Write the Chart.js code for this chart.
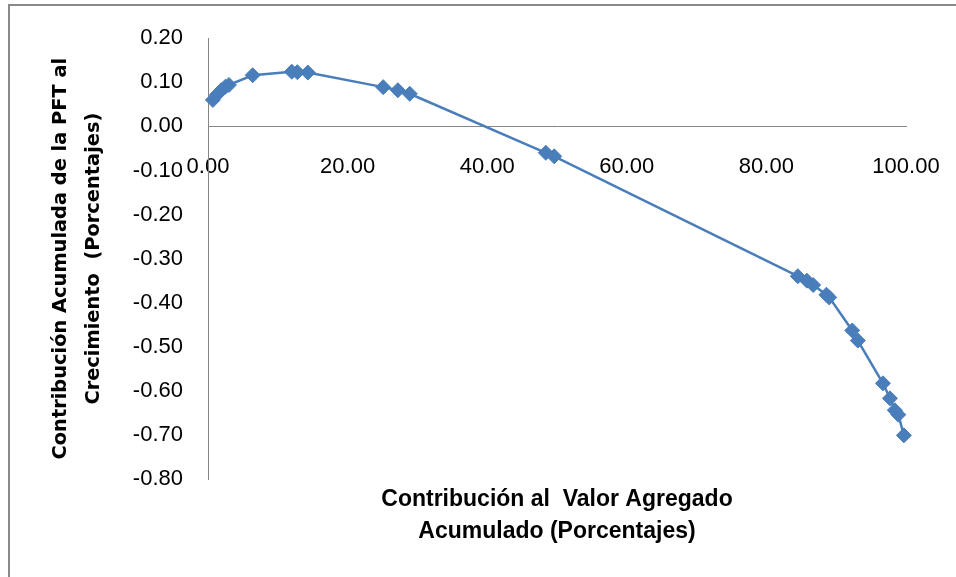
<!DOCTYPE html>
<html>
<head>
<meta charset="utf-8">
<script src="https://cdn.jsdelivr.net/npm/chart.js@4/dist/chart.umd.min.js"></script>
<style>
    html, body { margin: 0; padding: 0; background: #fff; }
    #wrap { position: relative; width: 956px; height: 577px; overflow: hidden; }
    #frame { position: absolute; left: 8px; top: 4px; width: 1000px; height: 700px; border: 2px solid #898989; }
    #graphs { position: absolute; left: 0; top: 0; }
</style>
</head>
<body>
<div id="wrap">
    <div id="frame"></div>
    <canvas id="graphs" width="956" height="577"></canvas>
</div>
<script>
// contribución al valor agregado acumulado (%)
const xValues = [0.7, 1.3, 1.9, 2.5, 3.0, 6.4, 12.0, 12.8, 14.3, 25.1, 27.2, 28.9, 48.4, 49.6,
    84.5, 85.8, 86.7, 88.6, 89.0, 92.3, 93.1, 96.7, 97.7, 98.4, 98.9, 99.7];
// contribución acumulada de la PFT al crecimiento (%)
const yValues = [0.060, 0.072, 0.082, 0.090, 0.094, 0.116, 0.124, 0.123, 0.122, 0.089, 0.082, 0.074, -0.060, -0.068,
    -0.340, -0.350, -0.360, -0.382, -0.388, -0.463, -0.486, -0.583, -0.617, -0.644, -0.654, -0.701];

const xTicks = [0, 20, 40, 60, 80, 100];
const yTicks = [0.2, 0.1, 0, -0.1, -0.2, -0.3, -0.4, -0.5, -0.6, -0.7, -0.8];

const xTitle = ['Contribución al  Valor Agregado', 'Acumulado (Porcentajes)'];
const yTitle = ['Contribución Acumulada de la PFT al', 'Crecimiento  (Porcentajes)'];

function fmt(v) {
    if (Math.abs(v) < 1e-9) v = 0;
    return v.toFixed(2);
}

function initChart(id) {
    const ctx = document.getElementById(id).getContext('2d');

    new Chart(ctx, {
        type: 'line',
        data: {
            datasets: [{
                data: xValues.map((x, i) => ({ x: x, y: yValues[i] })),
                borderColor: '#4a7ebb',
                backgroundColor: '#4a7ebb',
                borderWidth: 2.5,
                tension: 0,
                pointStyle: 'rectRot',
                pointRadius: 7.5,
                pointBorderWidth: 1,
                clip: false,
            }],
        },
        options: {
            responsive: false,
            animation: false,
            layout: {
                padding: { left: 0, top: 36, right: 50, bottom: 0 }
            },
            plugins: {
                legend: { display: false },
                tooltip: { enabled: false },
            },
            scales: {
                x: {
                    type: 'linear',
                    position: { y: 0 },
                    min: 0,
                    max: 100,
                    afterBuildTicks: (s) => { s.ticks = xTicks.map(v => ({ value: v })); },
                    // labels may stick out, the frame is fixed
                    afterFit: (s) => { s.paddingLeft = 0; s.paddingRight = 0; },
                    grid: { display: false, drawTicks: false },
                    border: { display: true, color: '#868686', width: 1 },
                    ticks: {
                        color: '#000',
                        font: { family: 'Liberation Sans', size: 22 },
                        padding: 27,
                        autoSkip: false,
                        maxRotation: 0,
                        callback: (v) => fmt(v),
                    },
                },
                x2: {
                    type: 'linear',
                    position: 'bottom',
                    afterFit: (s) => { s.height = 98; },
                    grid: { display: false, drawTicks: false },
                    border: { display: false },
                    ticks: { display: false },
                    title: {
                        display: true,
                        text: xTitle,
                        color: '#000',
                        font: { family: 'Liberation Sans', size: 23, weight: 'bold', lineHeight: 32 / 23 },
                        padding: { top: 0, bottom: 29 },
                    },
                },
                y: {
                    min: -0.8,
                    max: 0.2,
                    afterBuildTicks: (s) => { s.ticks = yTicks.map(v => ({ value: v })); },
                    afterFit: (s) => { s.width = 208; },
                    grid: { display: false, drawTicks: false },
                    border: { display: true, color: '#868686', width: 1 },
                    ticks: {
                        color: '#000',
                        font: { family: 'Liberation Sans', size: 22 },
                        padding: 25,
                        callback: (v) => fmt(v),
                    },
                    title: {
                        display: true,
                        text: yTitle,
                        color: '#000',
                        font: { family: 'DejaVu Sans', size: 19.4, weight: 'bold', lineHeight: 33 / 19.4 },
                        padding: { top: 44, bottom: 0 },
                    },
                },
            },
        },
    });
}

initChart('graphs');
</script>
</body>
</html>
